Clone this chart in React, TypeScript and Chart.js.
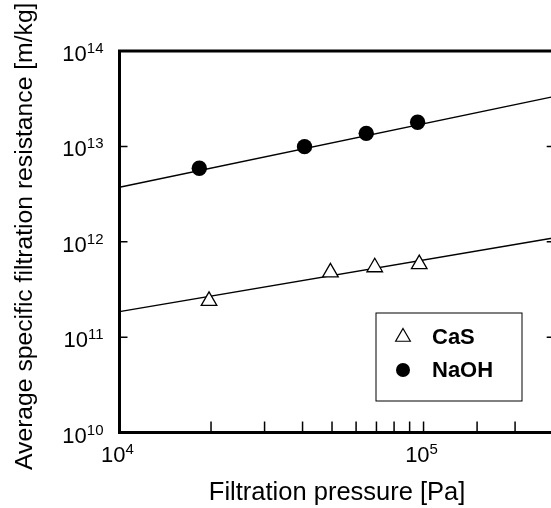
import React, { useEffect, useRef } from "react";
import { Chart, registerables } from "chart.js";

Chart.register(...registerables);

// ---- data ----
const SERIES_NAMES = ["CaS", "NaOH"];
const CAS_PRESSURE = [1.97e4, 4.94e4, 6.91e4, 9.68e4];
const CAS_RESISTANCE = [2.4e11, 4.77e11, 5.4e11, 5.82e11];
const NAOH_PRESSURE = [1.83e4, 4.06e4, 6.48e4, 9.56e4];
const NAOH_RESISTANCE = [5.89e12, 9.93e12, 1.37e13, 1.79e13];
// fitted straight lines (end points read at the axis limits)
const CAS_FIT_PRESSURE = [1e4, 2.7e5];
const CAS_FIT_RESISTANCE = [1.85e11, 1.1e12];
const NAOH_FIT_PRESSURE = [1e4, 2.7e5];
const NAOH_FIT_RESISTANCE = [3.73e12, 3.34e13];

const X_MIN = 1e4;
const X_MAX = 2.7e5;
const Y_MIN = 1e10;
const Y_MAX = 1e14;
const X_LABEL_EXPONENTS = [4, 5];
const Y_LABEL_EXPONENTS = [10, 11, 12, 13, 14];
const X_TITLE = "Filtration pressure [Pa]";
const Y_TITLE = "Average specific filtration resistance [m/kg]";

const FONT = "'Liberation Sans', Arial, Helvetica, sans-serif";

const toPoints = (xs: number[], ys: number[]) => xs.map((x, i) => ({ x, y: ys[i] }));

function drawPower(ctx: CanvasRenderingContext2D, exp: number, x: number, baseline: number, align: "center" | "right") {
  ctx.font = `22px ${FONT}`;
  const base = "10";
  const bw = ctx.measureText(base).width;
  ctx.font = `15px ${FONT}`;
  const ew = ctx.measureText(String(exp)).width;
  const total = bw + ew;
  const start = align === "center" ? x - total / 2 : x - total;
  ctx.textAlign = "left";
  ctx.textBaseline = "alphabetic";
  ctx.font = `22px ${FONT}`;
  ctx.fillText(base, start, baseline);
  ctx.font = `15px ${FONT}`;
  ctx.fillText(String(exp), start + bw, baseline - 8);
}

const framePlugin = {
  id: "frameAndLabels",
  afterDraw(chart: any) {
    const { ctx, chartArea } = chart;
    const { left, right, top, bottom } = chartArea;
    const xs = chart.scales.x;
    const ys = chart.scales.y;
    ctx.save();
    ctx.strokeStyle = "#000";
    ctx.fillStyle = "#000";
    // frame
    ctx.lineWidth = 3;
    ctx.beginPath();
    ctx.rect(left, top, right - left, bottom - top);
    ctx.stroke();
    // x ticks (inward)
    ctx.lineWidth = 1.5;
    ctx.beginPath();
    for (const t of xs.ticks) {
      const v = t.value;
      if (v <= X_MIN || v >= X_MAX) continue;
      const px = xs.getPixelForValue(v);
      ctx.moveTo(px, bottom);
      ctx.lineTo(px, bottom - 11);
    }
    // y ticks (inward, both sides)
    for (const e of Y_LABEL_EXPONENTS) {
      const v = Math.pow(10, e);
      if (v <= Y_MIN || v >= Y_MAX) continue;
      const py = ys.getPixelForValue(v);
      ctx.moveTo(left, py);
      ctx.lineTo(left + 8, py);
      ctx.moveTo(right, py);
      ctx.lineTo(right - 8, py);
    }
    ctx.stroke();
    // tick labels
    for (const e of X_LABEL_EXPONENTS) {
      const px = xs.getPixelForValue(Math.pow(10, e));
      drawPower(ctx, e, px - 2, bottom + 29, "center");
    }
    for (const e of Y_LABEL_EXPONENTS) {
      const py = ys.getPixelForValue(Math.pow(10, e));
      drawPower(ctx, e, left - 16, py + 10, "right");
    }
    // y axis title
    ctx.save();
    ctx.translate(25.5, (top + bottom) / 2 - 5.5);
    ctx.rotate(-Math.PI / 2);
    ctx.font = `24.7px ${FONT}`;
    ctx.textAlign = "center";
    ctx.textBaseline = "middle";
    ctx.fillStyle = "#000";
    ctx.fillText(Y_TITLE, 0, 0);
    ctx.restore();
    // legend
    const bx = left + 256.5;
    const by = bottom - 119.5;
    const bw = 146;
    const bh = 88;
    ctx.fillStyle = "#fff";
    ctx.fillRect(bx, by, bw, bh);
    ctx.lineWidth = 1;
    ctx.strokeStyle = "#000";
    ctx.strokeRect(bx, by, bw, bh);
    const rows = [by + 24, by + 57];
    chart.data.datasets.slice(0, 2).forEach((ds: any, i: number) => {
      const cy = rows[i];
      const cx = bx + 27;
      ctx.beginPath();
      if (ds.pointStyle === "triangle") {
        const r = 8.5;
        ctx.moveTo(cx, cy - r);
        ctx.lineTo(cx + r * Math.sin((2 * Math.PI) / 3), cy + r / 2);
        ctx.lineTo(cx - r * Math.sin((2 * Math.PI) / 3), cy + r / 2);
        ctx.closePath();
        ctx.fillStyle = "#fff";
        ctx.fill();
        ctx.lineWidth = 1.2;
        ctx.strokeStyle = "#000";
        ctx.stroke();
      } else {
        ctx.arc(cx, cy, 7, 0, Math.PI * 2);
        ctx.fillStyle = "#000";
        ctx.fill();
      }
      ctx.fillStyle = "#000";
      ctx.font = `bold 22px ${FONT}`;
      ctx.textAlign = "left";
      ctx.textBaseline = "middle";
      ctx.fillText(ds.label, bx + 56, cy + 1);
    });
    ctx.restore();
  },
};

export default function App() {
  const canvasRef = useRef<HTMLCanvasElement | null>(null);

  useEffect(() => {
    if (!canvasRef.current) return;
    Chart.defaults.color = "#000";
    Chart.defaults.font.family = FONT;
    const chart = new Chart(canvasRef.current, {
      type: "scatter",
      data: {
        datasets: [
          {
            label: SERIES_NAMES[0],
            data: toPoints(CAS_PRESSURE, CAS_RESISTANCE),
            pointStyle: "triangle",
            pointRadius: 9,
            pointBackgroundColor: "#fff",
            pointBorderColor: "#000",
            pointBorderWidth: 1.3,
            showLine: false,
          },
          {
            label: SERIES_NAMES[1],
            data: toPoints(NAOH_PRESSURE, NAOH_RESISTANCE),
            pointStyle: "circle",
            pointRadius: 7.7,
            pointBackgroundColor: "#000",
            pointBorderColor: "#000",
            pointBorderWidth: 0,
            showLine: false,
          },
          {
            label: "CaS fit",
            data: toPoints(CAS_FIT_PRESSURE, CAS_FIT_RESISTANCE),
            showLine: true,
            pointRadius: 0,
            borderColor: "#000",
            borderWidth: 1.4,
          },
          {
            label: "NaOH fit",
            data: toPoints(NAOH_FIT_PRESSURE, NAOH_FIT_RESISTANCE),
            showLine: true,
            pointRadius: 0,
            borderColor: "#000",
            borderWidth: 1.4,
          },
        ],
      },
      options: {
        animation: false,
        responsive: false,
        maintainAspectRatio: false,
        layout: { padding: { left: 0, top: 51, right: 6.8, bottom: 0 } },
        plugins: { legend: { display: false }, tooltip: { enabled: false } },
        scales: {
          x: {
            type: "logarithmic",
            min: X_MIN,
            max: X_MAX,
            grid: { display: false },
            border: { display: false },
            ticks: { display: false },
            title: {
              display: true,
              text: X_TITLE,
              font: { size: 25.5, family: FONT },
              color: "#000",
              padding: { top: 0, bottom: 0 },
            },
            afterFit: (s: any) => {
              s.height = 75.5;
            },
          },
          y: {
            type: "logarithmic",
            min: Y_MIN,
            max: Y_MAX,
            grid: { display: false },
            border: { display: false },
            ticks: { display: false },
            title: { display: false },
            afterFit: (s: any) => {
              s.width = 119.5;
            },
          },
        },
      },
      plugins: [framePlugin],
    } as any);
    return () => chart.destroy();
  }, []);

  return (
    <div
      style={{
        position: "fixed",
        left: 0,
        top: 0,
        width: 551,
        height: 508,
        overflow: "hidden",
        background: "#fff",
      }}
    >
      <canvas ref={canvasRef} width={565} height={508} style={{ display: "block" }} />
    </div>
  );
}
